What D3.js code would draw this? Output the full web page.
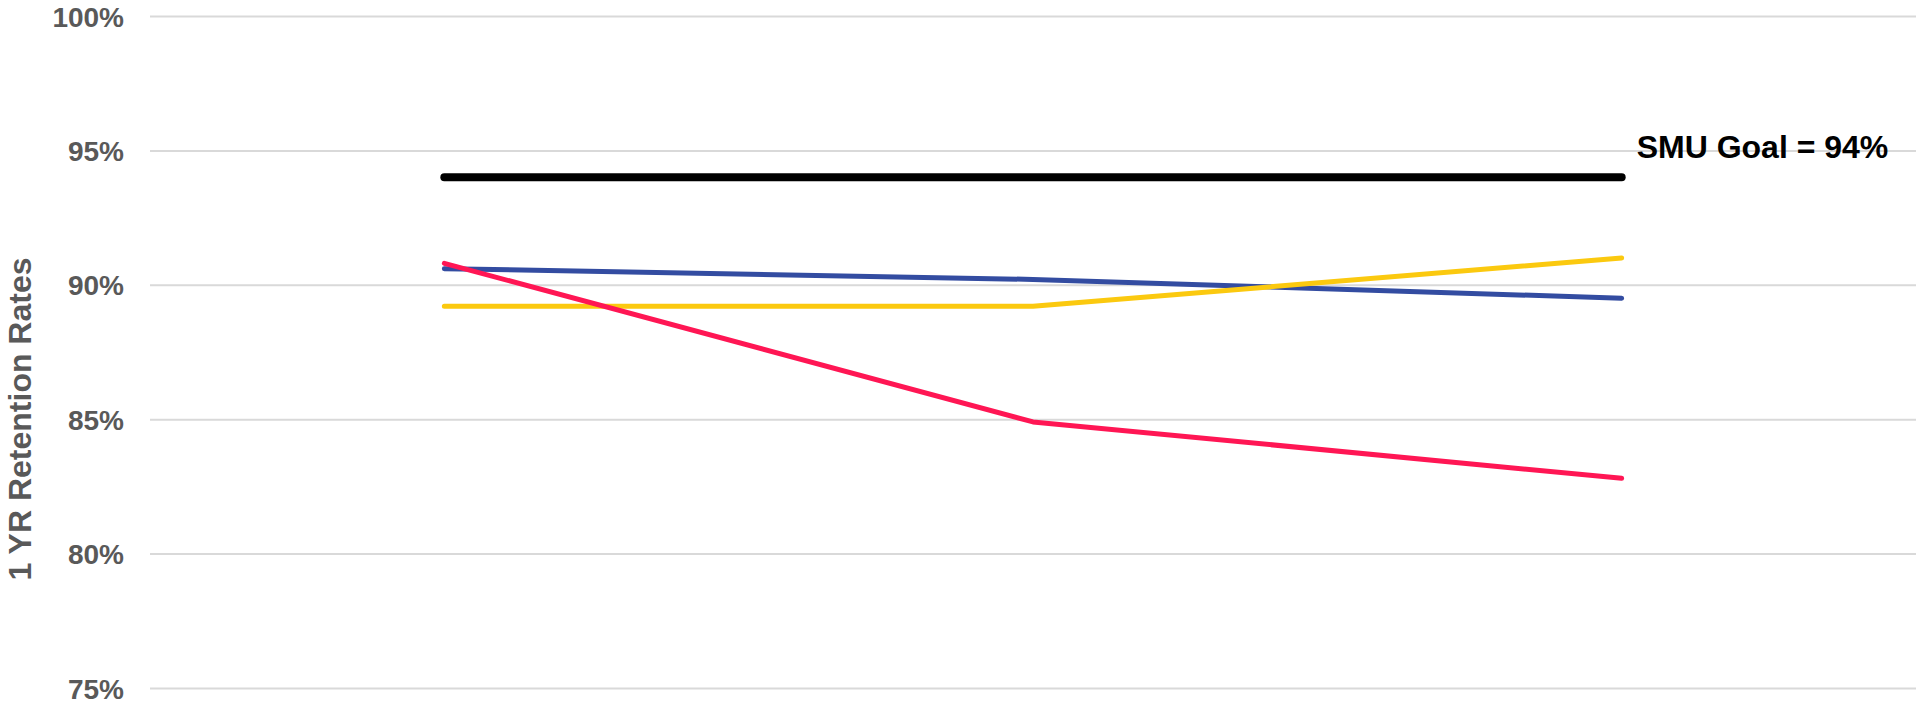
<!DOCTYPE html>
<html>
<head>
<meta charset="utf-8">
<script src="https://cdn.jsdelivr.net/npm/d3@7"></script>
<style>
  html, body { margin: 0; padding: 0; background: #ffffff; }
  svg { display: block; font-family: Arial, "Liberation Sans", sans-serif; }
</style>
</head>
<body>
<svg id="chart" width="1918" height="703"></svg>
<script>
// Cohort years along the x axis (not labelled on the chart)
const categories = ["Cohort 1", "Cohort 2", "Cohort 3"];

// One-year retention rates per series
const seriesBlue   = [0.906, 0.902, 0.895];
const seriesYellow = [0.892, 0.892, 0.910];
const seriesRed    = [0.908, 0.849, 0.828];

// Institutional goal
const goalValue = 0.94;
const goalLabel = "SMU Goal = 94%";

// Y axis ticks
const yTicks = [0.75, 0.80, 0.85, 0.90, 0.95, 1.00];
const yTitle = "1 YR Retention Rates";

const svg = d3.select("#chart");

const plotLeft = 150, plotRight = 1916, plotTop = 16, plotBottom = 688;

const x = d3.scalePoint()
  .domain(categories)
  .range([plotLeft, plotRight])
  .padding(0.5);

const y = d3.scaleLinear()
  .domain([0.75, 1.0])
  .range([plotBottom, plotTop]);

// Horizontal gridlines + percent labels
const yAxis = d3.axisLeft(y)
  .tickValues(yTicks)
  .tickFormat(d3.format(".0%"))
  .tickSize(-(plotRight - plotLeft))
  .tickPadding(26);

const gAxis = svg.append("g")
  .attr("transform", `translate(${plotLeft},0)`)
  .call(yAxis);

gAxis.select(".domain").remove();
gAxis.selectAll(".tick line")
  .attr("stroke", "#d9d9d9")
  .attr("stroke-width", 2);
gAxis.selectAll(".tick text")
  .attr("fill", "#595959")
  .attr("font-size", 28)
  .attr("font-weight", "bold")
  .attr("font-family", "Arial, 'Liberation Sans', sans-serif")
  .attr("dy", "0.36em");

// Y axis title
svg.append("text")
  .attr("transform", `translate(31,${419}) rotate(-90)`)
  .attr("text-anchor", "middle")
  .attr("fill", "#595959")
  .attr("font-size", 32)
  .attr("font-weight", "bold")
  .text(yTitle);

const line = d3.line()
  .x((d, i) => x(categories[i]))
  .y(d => y(d));

const series = [
  { values: seriesBlue,   color: "#334ca1" },
  { values: seriesYellow, color: "#fbc90f" },
  { values: seriesRed,    color: "#ff1654" }
];

// Goal line across all cohorts
const goalValues = categories.map(() => goalValue);
svg.append("path")
  .datum(goalValues)
  .attr("d", line)
  .attr("fill", "none")
  .attr("stroke", "#000000")
  .attr("stroke-width", 8)
  .attr("stroke-linecap", "round");

svg.selectAll("path.series")
  .data(series)
  .join("path")
  .attr("class", "series")
  .attr("d", s => line(s.values))
  .attr("fill", "none")
  .attr("stroke", s => s.color)
  .attr("stroke-width", 5)
  .attr("stroke-linecap", "round")
  .attr("stroke-linejoin", "round");

// Goal label at the right end of the goal line
svg.append("text")
  .attr("x", x(categories[categories.length - 1]) + 15)
  .attr("y", y(goalValue) - 19)
  .attr("fill", "#000000")
  .attr("font-size", 32)
  .attr("font-weight", "bold")
  .text(goalLabel);
</script>
</body>
</html>
